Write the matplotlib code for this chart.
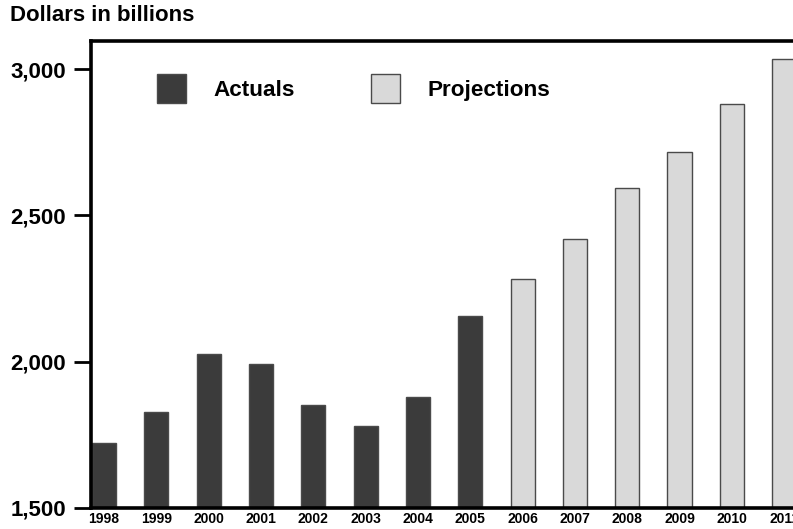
import matplotlib.pyplot as plt
from matplotlib.patches import Patch

plt.rcParams['font.family'] = ['Liberation Sans', 'DejaVu Sans']
plt.rcParams['font.weight'] = 'bold'

years = ['1998', '1999', '2000', '2001', '2002', '2003', '2004',
         '2005', '2006', '2007', '2008', '2009', '2010', '2011']
values = [1721, 1828, 2026, 1992, 1852, 1781, 1879,
          2156, 2282, 2419, 2593, 2715, 2880, 3036]
n_actual = 8  # 1998-2005 are actuals, the rest projections

dark = '#3b3b3b'
light = '#d9d9d9'

fig = plt.figure(figsize=(7.93, 5.29), dpi=100)
ax = fig.add_axes([0.1148, 0.0397, 0.8852, 0.8828])

x = list(range(len(years)))
colors = [dark if i < n_actual else light for i in x]
ax.bar(x, values, width=0.46, bottom=0, color=colors,
       edgecolor='#4a4a4a', linewidth=1.0, zorder=2)

ax.set_ylim(1500, 3096)
ax.set_xlim(-0.25, 13.17)
ax.set_yticks([1500, 2000, 2500, 3000])
ax.set_yticklabels([f'{v:,}' for v in [1500, 2000, 2500, 3000]],
                   fontsize=16, fontweight='bold')
ax.set_xticks(x)
ax.set_xticklabels(years, fontsize=10, fontweight='bold')

ax.tick_params(axis='y', length=12, width=2, pad=6)
ax.tick_params(axis='x', length=0, pad=3)

for side in ['left', 'bottom', 'top']:
    ax.spines[side].set_linewidth(2.6)
ax.spines['right'].set_visible(False)

handles = [Patch(facecolor=dark, edgecolor='#4a4a4a', linewidth=1.0),
           Patch(facecolor=light, edgecolor='#4a4a4a', linewidth=1.0)]
leg = ax.legend(handles, ['Actuals', 'Projections'], ncol=2, frameon=False,
                loc='center left', bbox_to_anchor=(0.094, 0.899),
                borderaxespad=0, borderpad=0,
                handlelength=1.3, handleheight=1.6,
                handletextpad=1.2, columnspacing=3.4,
                prop={'size': 16.2, 'weight': 'bold'})

fig.text(0.012, 0.99, 'Dollars in billions', fontsize=16,
         fontweight='bold', va='top', ha='left')

fig.savefig('out.png', dpi=100)
